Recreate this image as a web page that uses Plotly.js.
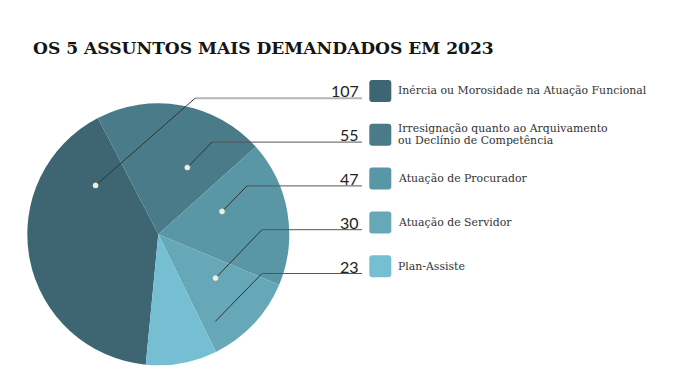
<!DOCTYPE html>
<html>
<head>
<meta charset="utf-8">
<script src="https://cdn.plot.ly/plotly-3.0.1.min.js"></script>
<style>html,body{margin:0;padding:0;background:#fff;}#chart{width:678px;height:386px;}</style>
</head>
<body>
<div id="chart"></div>
<script>
// ---- data ----
const title = 'OS 5 ASSUNTOS MAIS DEMANDADOS EM 2023';
const labels = [
  'Inércia ou Morosidade na Atuação Funcional',
  'Irresignação quanto ao Arquivamento\nou Declínio de Competência',
  'Atuação de Procurador',
  'Atuação de Servidor',
  'Plan-Assiste'
];
const values = [107, 55, 47, 30, 23];
const colors = ['#3d6672', '#4a7b89', '#5996a6', '#66a8b8', '#76bfd3'];

// ---- styling / geometry ----
const W = 678, H = 386;
const cx = 158.3, cy = 234.3, R = 131;
const rotation = 185.5;
// leader anchor: [angle clockwise from 12 o'clock, radius fraction, has dot]
const anchors = [[307.9, 0.607, true], [23.5, 0.556, true], [70.3, 0.517, true], [127.4, 0.55, true], [146.8, 0.795, false]];
const elbowX = [195, 212, 247, 262, 262];
const lineEndX = 362;
const rowY0 = 91, rowStep = 43.8;
const boxX0 = 369.3, boxSize = 22, boxR = 3;
const textX = 396;

const X = px => px / W;
const Y = py => 1 - py / H;

const shapes = [];
const annotations = [];

values.forEach((v, i) => {
  const rowY = rowY0 + i * rowStep;
  const lineY = rowY + 7.3;
  const a = anchors[i][0] * Math.PI / 180;
  const ax = cx + anchors[i][1] * R * Math.sin(a);
  const ay = cy - anchors[i][1] * R * Math.cos(a);
  // diagonal leader
  shapes.push({type: 'path', xref: 'paper', yref: 'paper', layer: 'above',
    path: `M ${X(ax)} ${Y(ay)} L ${X(elbowX[i])} ${Y(lineY)}`,
    line: {color: '#333', width: 1}});
  // horizontal leader
  shapes.push({type: 'line', xref: 'paper', yref: 'paper', layer: 'above',
    x0: X(elbowX[i]), x1: X(lineEndX), y0: Y(lineY), y1: Y(lineY),
    line: {color: i === 0 ? '#b5b5b5' : '#555', width: i === 0 ? 2 : 1}});
  if (anchors[i][2]) {
    const d = 2.6;
    shapes.push({type: 'circle', xref: 'paper', yref: 'paper', layer: 'above',
      x0: X(ax - d), x1: X(ax + d), y0: Y(ay + d), y1: Y(ay - d),
      fillcolor: '#f4efdc', line: {color: '#e8e2c8', width: 0.5}});
  }
  // legend box (rounded)
  const x0 = boxX0, x1 = boxX0 + boxSize, y0 = rowY - boxSize / 2, y1 = rowY + boxSize / 2, r = boxR;
  const p = `M ${X(x0 + r)} ${Y(y0)} L ${X(x1 - r)} ${Y(y0)} Q ${X(x1)} ${Y(y0)} ${X(x1)} ${Y(y0 + r)} ` +
            `L ${X(x1)} ${Y(y1 - r)} Q ${X(x1)} ${Y(y1)} ${X(x1 - r)} ${Y(y1)} L ${X(x0 + r)} ${Y(y1)} ` +
            `Q ${X(x0)} ${Y(y1)} ${X(x0)} ${Y(y1 - r)} L ${X(x0)} ${Y(y0 + r)} Q ${X(x0)} ${Y(y0)} ${X(x0 + r)} ${Y(y0)} Z`;
  shapes.push({type: 'path', xref: 'paper', yref: 'paper', layer: 'above', path: p,
    fillcolor: colors[i], line: {width: 0}});
  // value
  annotations.push({xref: 'paper', yref: 'paper', x: X(lineEndX - 1), y: Y(rowY), xanchor: 'right', yanchor: 'middle',
    text: String(v), showarrow: false, font: {family: 'Lato, sans-serif', size: 16, color: '#222'}});
  // label lines
  const parts = labels[i].split('\n');
  parts.forEach((t, k) => {
    const off = (k - (parts.length - 1) / 2) * 11.8;
    annotations.push({xref: 'paper', yref: 'paper', x: X(textX), y: Y(rowY + off), xanchor: 'left', yanchor: 'middle',
      text: t, showarrow: false, font: {family: 'DejaVu Serif, serif', size: 10.9, color: '#333'}});
  });
});

const trace = {
  type: 'pie',
  values: values,
  labels: labels,
  marker: {colors: colors, line: {width: 0}},
  sort: false,
  direction: 'clockwise',
  rotation: rotation,
  textinfo: 'none',
  hoverinfo: 'skip',
  showlegend: false,
  domain: {x: [X(cx - R), X(cx + R)], y: [Y(cy + R), Y(cy - R)]}
};

const layout = {
  width: W, height: H,
  margin: {l: 0, r: 0, t: 0, b: 0},
  paper_bgcolor: '#ffffff',
  showlegend: false,
  title: {text: title, x: X(33), xanchor: 'left', xref: 'paper', yref: 'paper', y: Y(48), yanchor: 'middle',
    font: {family: 'DejaVu Serif, serif', size: 17.1, color: '#151515', weight: 'bold'}},
  shapes: shapes,
  annotations: annotations
};

Plotly.newPlot('chart', [trace], layout, {staticPlot: true, displayModeBar: false});
</script>
</body>
</html>
